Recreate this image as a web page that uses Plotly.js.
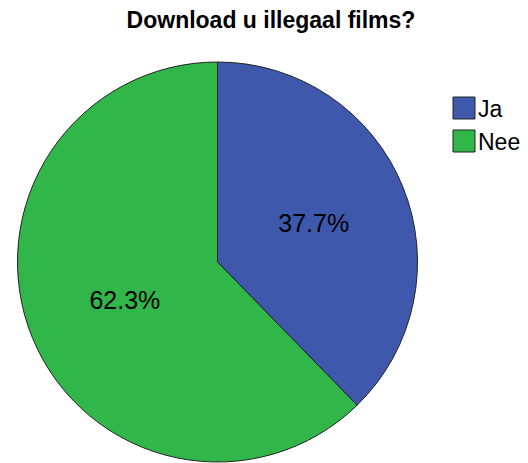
<!DOCTYPE html>
<html>
<head>
<meta charset="utf-8">
<script src="https://cdn.plot.ly/plotly-3.0.1.min.js"></script>
<style>html,body{margin:0;padding:0;background:#fff;}#chart{width:528px;height:463px;}</style>
</head>
<body>
<div id="chart"></div>
<script>
var labels = ["Ja", "Nee"];
var values = [37.7, 62.3];
var colors = ["#3E58AC", "#31B64A"];
var chartTitle = "Download u illegaal films?";

var W = 528, H = 463;
var FONT = "Liberation Sans, Arial, sans-serif";
var trace = {
  type: "pie",
  labels: labels,
  values: values,
  sort: false,
  direction: "clockwise",
  rotation: 0,
  marker: {colors: colors, line: {color: "#222222", width: 1}},
  textinfo: "percent",
  texttemplate: "%{value:.1f}%",
  textposition: "inside",
  insidetextorientation: "horizontal",
  textfont: {family: FONT, size: 25, color: "#000000"},
  hoverinfo: "none",
  domain: {x: [17.5 / W, 417.5 / W], y: [1 / H, 401 / H]},
  showlegend: false
};

var shapes = [], annotations = [];
var legX0 = 453, legY0 = 97, box = 22, gap = 33;
labels.forEach(function (lab, i) {
  var y0 = legY0 + i * gap;
  shapes.push({type: "rect", xref: "paper", yref: "paper",
    x0: legX0 / W, x1: (legX0 + box) / W,
    y0: 1 - (y0 + box) / H, y1: 1 - y0 / H,
    fillcolor: colors[i], line: {color: "#222222", width: 1}});
  annotations.push({xref: "paper", yref: "paper", x: (legX0 + box + 1) / W, y: 1 - (y0 + box / 2 + 1) / H,
    xanchor: "left", yanchor: "middle", text: lab, showarrow: false,
    font: {family: FONT, size: 23, color: "#000000"}});
});

var layout = {
  width: W, height: H,
  margin: {l: 0, r: 0, t: 0, b: 0},
  paper_bgcolor: "#ffffff",
  title: {text: "<b>" + chartTitle + "</b>", x: 271 / W, xanchor: "center", y: 1 - 20 / H, yanchor: "middle",
    font: {family: FONT, size: 23, color: "#000000"}},
  shapes: shapes,
  annotations: annotations,
  showlegend: false
};
Plotly.newPlot("chart", [trace], layout, {staticPlot: true, displayModeBar: false});
</script>
</body>
</html>
